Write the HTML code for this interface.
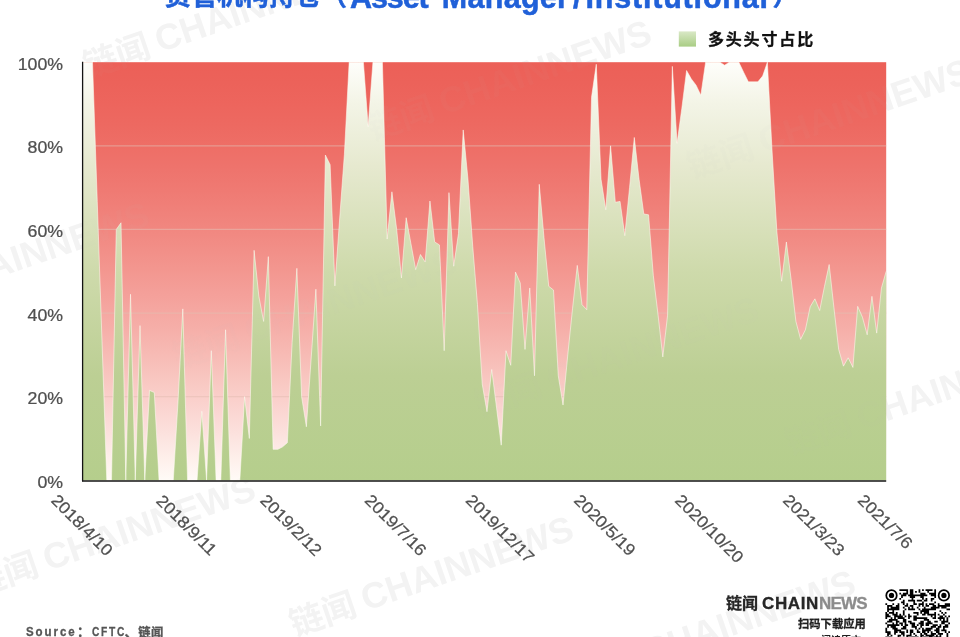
<!DOCTYPE html>
<html lang="zh-CN">
<head>
<meta charset="utf-8">
<title>资管机构持仓</title>
<style>
html,body{margin:0;padding:0;background:#fff;}
body{width:960px;height:637px;overflow:hidden;position:relative;font-family:"Liberation Sans","Noto Sans CJK SC",sans-serif;}
svg{position:absolute;left:0;top:0;display:block;}
.t{position:absolute;white-space:nowrap;line-height:1;}
.title{left:0;top:-21.5px;height:34px;color:#2060d8;font-weight:bold;font-size:26px;line-height:34px;-webkit-text-stroke:0.5px #2060d8;}
.title span{position:absolute;top:0;}
.title .en{font-size:30.5px;top:1.6px;}
.legend{left:707.9px;top:32.3px;font-size:16px;letter-spacing:1.85px;font-weight:bold;color:#111;-webkit-text-stroke:0.3px #111;}
.src{top:624.8px;font-size:13px;font-weight:bold;color:#555;-webkit-text-stroke:0.3px #555;}
.src i{font-style:normal;position:absolute;top:0;transform-origin:0 0;}
.logo{left:726px;top:593.5px;font-size:16px;font-weight:bold;color:#262626;height:20px;line-height:20px;-webkit-text-stroke:0.3px;}
.logo .en{font-size:17px;margin-left:-0.4px;letter-spacing:0.6px;}
.logo .nw{font-size:17px;color:#8c8c8c;letter-spacing:-0.75px;}
.scan{left:798px;top:618.6px;font-size:11.3px;font-weight:bold;color:#1f1f1f;-webkit-text-stroke:0.3px #1f1f1f;}
.more{left:821px;top:635.6px;font-size:10px;font-weight:bold;color:#1f1f1f;}
</style>
</head>
<body>
<svg width="960" height="637" viewBox="0 0 960 637">
<defs>
<linearGradient id="gr" gradientUnits="userSpaceOnUse" x1="0" y1="62.2" x2="0" y2="480.3">
<stop offset="0.00" stop-color="#ec6058"/><stop offset="0.05" stop-color="#ec625a"/><stop offset="0.10" stop-color="#ed655d"/><stop offset="0.15" stop-color="#ed6961"/><stop offset="0.20" stop-color="#ee6e66"/><stop offset="0.25" stop-color="#ee736c"/><stop offset="0.30" stop-color="#ef7972"/><stop offset="0.35" stop-color="#f08079"/><stop offset="0.40" stop-color="#f18780"/><stop offset="0.45" stop-color="#f28f88"/><stop offset="0.50" stop-color="#f39790"/><stop offset="0.55" stop-color="#f49f99"/><stop offset="0.60" stop-color="#f5a8a2"/><stop offset="0.65" stop-color="#f6b1ab"/><stop offset="0.70" stop-color="#f7bbb5"/><stop offset="0.75" stop-color="#f8c5bf"/><stop offset="0.80" stop-color="#facfca"/><stop offset="0.85" stop-color="#fbd9d5"/><stop offset="0.90" stop-color="#fce4e0"/><stop offset="0.95" stop-color="#fef0eb"/><stop offset="1.00" stop-color="#fffbf7"/>
</linearGradient>
<linearGradient id="gg" gradientUnits="userSpaceOnUse" x1="0" y1="62.2" x2="0" y2="480.3">
<stop offset="0" stop-color="#fefefb"/>
<stop offset="0.1" stop-color="#f3f4e6"/>
<stop offset="0.25" stop-color="#e6e9cf"/>
<stop offset="0.5" stop-color="#cedaab"/>
<stop offset="0.75" stop-color="#bccf94"/>
<stop offset="1" stop-color="#b5ce8c"/>
</linearGradient>
<clipPath id="cp"><rect x="83.0" y="62.2" width="803.2" height="418.1"/></clipPath>
<linearGradient id="lg" x1="0" y1="0" x2="0" y2="1">
<stop offset="0" stop-color="#d9e8c6"/>
<stop offset="1" stop-color="#a9cd84"/>
</linearGradient>
</defs>
<g fill="#f3f3f3" font-weight="bold"><g transform="translate(160,52.5) rotate(-19)"><text x="-8" y="1" text-anchor="end" font-size="34" font-family="Liberation Sans, Noto Sans CJK SC, sans-serif">链闻</text><text x="0" y="0" font-size="36" font-family="Liberation Sans, sans-serif">CHAINNEWS</text></g><g transform="translate(444,115) rotate(-19)"><text x="-8" y="1" text-anchor="end" font-size="34" font-family="Liberation Sans, Noto Sans CJK SC, sans-serif">链闻</text><text x="0" y="0" font-size="36" font-family="Liberation Sans, sans-serif">CHAINNEWS</text></g><g transform="translate(763.6,153.6) rotate(-19)"><text x="-8" y="1" text-anchor="end" font-size="34" font-family="Liberation Sans, Noto Sans CJK SC, sans-serif">链闻</text><text x="0" y="0" font-size="36" font-family="Liberation Sans, sans-serif">CHAINNEWS</text></g><g transform="translate(-58,297) rotate(-19)"><text x="-8" y="1" text-anchor="end" font-size="34" font-family="Liberation Sans, Noto Sans CJK SC, sans-serif">链闻</text><text x="0" y="0" font-size="36" font-family="Liberation Sans, sans-serif">CHAINNEWS</text></g><g transform="translate(249.6,343.6) rotate(-19)"><text x="-8" y="1" text-anchor="end" font-size="34" font-family="Liberation Sans, Noto Sans CJK SC, sans-serif">链闻</text><text x="0" y="0" font-size="36" font-family="Liberation Sans, sans-serif">CHAINNEWS</text></g><g transform="translate(551.6,391.6) rotate(-19)"><text x="-8" y="1" text-anchor="end" font-size="34" font-family="Liberation Sans, Noto Sans CJK SC, sans-serif">链闻</text><text x="0" y="0" font-size="36" font-family="Liberation Sans, sans-serif">CHAINNEWS</text></g><g transform="translate(861.5,430) rotate(-19)"><text x="-8" y="1" text-anchor="end" font-size="34" font-family="Liberation Sans, Noto Sans CJK SC, sans-serif">链闻</text><text x="0" y="0" font-size="36" font-family="Liberation Sans, sans-serif">CHAINNEWS</text></g><g transform="translate(48,571) rotate(-19)"><text x="-8" y="1" text-anchor="end" font-size="34" font-family="Liberation Sans, Noto Sans CJK SC, sans-serif">链闻</text><text x="0" y="0" font-size="36" font-family="Liberation Sans, sans-serif">CHAINNEWS</text></g><g transform="translate(366,611) rotate(-19)"><text x="-8" y="1" text-anchor="end" font-size="34" font-family="Liberation Sans, Noto Sans CJK SC, sans-serif">链闻</text><text x="0" y="0" font-size="36" font-family="Liberation Sans, sans-serif">CHAINNEWS</text></g><g transform="translate(648,665) rotate(-19)"><text x="-8" y="1" text-anchor="end" font-size="34" font-family="Liberation Sans, Noto Sans CJK SC, sans-serif">链闻</text><text x="0" y="0" font-size="36" font-family="Liberation Sans, sans-serif">CHAINNEWS</text></g></g>
<rect x="83.0" y="62.2" width="803.2" height="418.1" fill="url(#gr)"/>
<g stroke="#e3bdb2" stroke-opacity="0.55" stroke-width="1.3"><line x1="83.0" x2="886.2" y1="396.68" y2="396.68"/><line x1="83.0" x2="886.2" y1="313.06" y2="313.06"/><line x1="83.0" x2="886.2" y1="229.44" y2="229.44"/><line x1="83.0" x2="886.2" y1="145.82" y2="145.82"/></g>
<polygon points="83.00,480.30 83.00,62.20 87.75,62.20 92.51,62.20 97.26,201.43 102.01,341.07 106.76,480.30 111.52,480.30 116.27,229.44 121.02,222.75 125.77,480.30 130.53,294.25 135.28,480.30 140.03,325.60 144.78,480.30 149.54,390.41 154.29,392.50 159.04,480.30 163.80,480.30 168.55,480.30 173.30,480.30 178.05,400.86 182.81,308.88 187.56,480.30 192.31,480.30 197.06,480.30 201.82,411.31 206.57,480.30 211.32,350.69 216.07,480.30 220.83,480.30 225.58,329.78 230.33,480.30 235.09,480.30 239.84,480.30 244.59,396.68 249.34,438.49 254.10,250.34 258.85,296.34 263.60,321.42 268.35,256.62 273.11,449.36 277.86,449.36 282.61,446.85 287.36,442.67 292.12,342.33 296.87,268.32 301.62,396.68 306.38,426.78 311.13,359.05 315.88,289.23 320.63,425.95 325.39,155.02 330.14,164.63 334.89,285.88 339.64,218.99 344.40,154.18 349.15,62.20 353.90,62.20 358.65,62.20 363.41,62.20 368.16,126.59 372.91,62.20 377.67,62.20 382.42,62.20 387.17,239.06 391.92,191.81 396.68,229.44 401.43,277.94 406.18,217.73 410.93,243.66 415.69,269.58 420.44,254.53 425.19,262.05 429.94,201.01 434.70,241.98 439.45,244.91 444.20,350.69 448.96,192.65 453.71,266.23 458.46,233.62 463.21,129.93 467.97,179.27 472.72,246.16 477.47,304.70 482.22,384.14 486.98,411.73 491.73,369.50 496.48,407.13 501.23,445.18 505.99,350.69 510.74,365.32 515.49,272.09 520.24,282.96 525.00,349.43 529.75,287.97 534.50,375.77 539.26,184.29 544.01,237.80 548.76,286.30 553.51,290.06 558.27,375.77 563.02,405.04 567.77,354.87 572.52,308.88 577.28,265.40 582.03,304.70 586.78,309.72 591.53,97.32 596.29,64.29 601.04,179.27 605.79,209.79 610.55,145.82 615.30,202.26 620.05,201.43 624.80,235.71 629.56,187.63 634.31,137.46 639.06,179.27 643.81,213.97 648.57,214.81 653.32,275.43 658.07,315.15 662.82,356.96 667.58,315.15 672.33,66.38 677.08,143.31 681.84,108.19 686.59,70.56 691.34,78.92 696.09,85.20 700.85,95.23 705.60,62.20 710.35,62.20 715.10,62.20 719.86,62.20 724.61,65.13 729.36,62.20 734.11,62.20 738.87,62.20 743.62,72.23 748.37,81.85 753.13,81.85 757.88,81.85 762.63,76.00 767.38,62.20 772.14,152.09 776.89,231.95 781.64,281.28 786.39,241.98 791.15,279.61 795.90,321.42 800.65,339.40 805.40,329.78 810.16,306.79 814.91,298.84 819.66,310.55 824.42,286.72 829.17,264.56 833.92,307.62 838.67,349.43 843.43,366.16 848.18,357.80 852.93,367.41 857.68,306.37 862.44,317.24 867.19,334.80 871.94,296.34 876.69,333.13 881.45,287.97 886.20,271.25 886.20,480.30" fill="url(#gg)"/>
<polyline points="83.00,62.20 87.75,62.20 92.51,62.20 97.26,201.43 102.01,341.07 106.76,480.30 111.52,480.30 116.27,229.44 121.02,222.75 125.77,480.30 130.53,294.25 135.28,480.30 140.03,325.60 144.78,480.30 149.54,390.41 154.29,392.50 159.04,480.30 163.80,480.30 168.55,480.30 173.30,480.30 178.05,400.86 182.81,308.88 187.56,480.30 192.31,480.30 197.06,480.30 201.82,411.31 206.57,480.30 211.32,350.69 216.07,480.30 220.83,480.30 225.58,329.78 230.33,480.30 235.09,480.30 239.84,480.30 244.59,396.68 249.34,438.49 254.10,250.34 258.85,296.34 263.60,321.42 268.35,256.62 273.11,449.36 277.86,449.36 282.61,446.85 287.36,442.67 292.12,342.33 296.87,268.32 301.62,396.68 306.38,426.78 311.13,359.05 315.88,289.23 320.63,425.95 325.39,155.02 330.14,164.63 334.89,285.88 339.64,218.99 344.40,154.18 349.15,62.20 353.90,62.20 358.65,62.20 363.41,62.20 368.16,126.59 372.91,62.20 377.67,62.20 382.42,62.20 387.17,239.06 391.92,191.81 396.68,229.44 401.43,277.94 406.18,217.73 410.93,243.66 415.69,269.58 420.44,254.53 425.19,262.05 429.94,201.01 434.70,241.98 439.45,244.91 444.20,350.69 448.96,192.65 453.71,266.23 458.46,233.62 463.21,129.93 467.97,179.27 472.72,246.16 477.47,304.70 482.22,384.14 486.98,411.73 491.73,369.50 496.48,407.13 501.23,445.18 505.99,350.69 510.74,365.32 515.49,272.09 520.24,282.96 525.00,349.43 529.75,287.97 534.50,375.77 539.26,184.29 544.01,237.80 548.76,286.30 553.51,290.06 558.27,375.77 563.02,405.04 567.77,354.87 572.52,308.88 577.28,265.40 582.03,304.70 586.78,309.72 591.53,97.32 596.29,64.29 601.04,179.27 605.79,209.79 610.55,145.82 615.30,202.26 620.05,201.43 624.80,235.71 629.56,187.63 634.31,137.46 639.06,179.27 643.81,213.97 648.57,214.81 653.32,275.43 658.07,315.15 662.82,356.96 667.58,315.15 672.33,66.38 677.08,143.31 681.84,108.19 686.59,70.56 691.34,78.92 696.09,85.20 700.85,95.23 705.60,62.20 710.35,62.20 715.10,62.20 719.86,62.20 724.61,65.13 729.36,62.20 734.11,62.20 738.87,62.20 743.62,72.23 748.37,81.85 753.13,81.85 757.88,81.85 762.63,76.00 767.38,62.20 772.14,152.09 776.89,231.95 781.64,281.28 786.39,241.98 791.15,279.61 795.90,321.42 800.65,339.40 805.40,329.78 810.16,306.79 814.91,298.84 819.66,310.55 824.42,286.72 829.17,264.56 833.92,307.62 838.67,349.43 843.43,366.16 848.18,357.80 852.93,367.41 857.68,306.37 862.44,317.24 867.19,334.80 871.94,296.34 876.69,333.13 881.45,287.97 886.20,271.25" fill="none" stroke="#fffdf4" stroke-opacity="0.6" stroke-width="0.9" stroke-linejoin="round"/>
<line x1="82.6" x2="82.6" y1="61.7" y2="481.3" stroke="#141414" stroke-width="1.3"/>
<line x1="82.0" x2="886.2" y1="481.05" y2="481.05" stroke="#141414" stroke-width="1.5"/>
<rect x="678.8" y="31.4" width="17.2" height="15.2" fill="url(#lg)"/>
<g font-family="Liberation Sans, sans-serif" font-size="16.5" fill="#505050" stroke="#505050" stroke-width="0.25">
<text transform="translate(63,487.7) scale(1.075,1)" text-anchor="end">0%</text><text transform="translate(63,404.1) scale(1.075,1)" text-anchor="end">20%</text><text transform="translate(63,320.5) scale(1.075,1)" text-anchor="end">40%</text><text transform="translate(63,236.8) scale(1.075,1)" text-anchor="end">60%</text><text transform="translate(63,153.2) scale(1.075,1)" text-anchor="end">80%</text><text transform="translate(63,69.6) scale(1.075,1)" text-anchor="end">100%</text>
<text transform="translate(82.2,524.9) rotate(45) scale(1.075,1)" text-anchor="middle" y="5.9">2018/4/10</text><text transform="translate(186.8,524.9) rotate(45) scale(1.075,1)" text-anchor="middle" y="5.9">2018/9/11</text><text transform="translate(291.3,524.9) rotate(45) scale(1.075,1)" text-anchor="middle" y="5.9">2019/2/12</text><text transform="translate(395.9,524.9) rotate(45) scale(1.075,1)" text-anchor="middle" y="5.9">2019/7/16</text><text transform="translate(500.4,528.4) rotate(45) scale(1.075,1)" text-anchor="middle" y="5.9">2019/12/17</text><text transform="translate(605.0,524.9) rotate(45) scale(1.075,1)" text-anchor="middle" y="5.9">2020/5/19</text><text transform="translate(709.6,528.4) rotate(45) scale(1.075,1)" text-anchor="middle" y="5.9">2020/10/20</text><text transform="translate(814.1,524.9) rotate(45) scale(1.075,1)" text-anchor="middle" y="5.9">2021/3/23</text><text transform="translate(885.4,521.4) rotate(45) scale(1.075,1)" text-anchor="middle" y="5.9">2021/7/6</text>
</g>
<path d="M899.37 589.30h8.73v1.75h-8.73zM909.84 589.30h3.49v1.75h-3.49zM918.57 589.30h1.75v1.75h-1.75zM922.06 589.30h1.75v1.75h-1.75zM925.56 589.30h6.98v1.75h-6.98zM934.29 589.30h1.75v1.75h-1.75zM906.35 591.05h1.75v1.75h-1.75zM909.84 591.05h3.49v1.75h-3.49zM915.08 591.05h1.75v1.75h-1.75zM918.57 591.05h1.75v1.75h-1.75zM927.30 591.05h1.75v1.75h-1.75zM934.29 591.05h1.75v1.75h-1.75zM899.37 592.79h1.75v1.75h-1.75zM902.86 592.79h5.24v1.75h-5.24zM909.84 592.79h3.49v1.75h-3.49zM920.32 592.79h5.24v1.75h-5.24zM929.05 592.79h6.98v1.75h-6.98zM901.11 594.54h5.24v1.75h-5.24zM908.10 594.54h19.21v1.75h-19.21zM930.79 594.54h5.24v1.75h-5.24zM901.11 596.28h1.75v1.75h-1.75zM909.84 596.28h5.24v1.75h-5.24zM920.32 596.28h3.49v1.75h-3.49zM934.29 596.28h1.75v1.75h-1.75zM899.37 598.03h1.75v1.75h-1.75zM911.59 598.03h1.75v1.75h-1.75zM922.06 598.03h1.75v1.75h-1.75zM925.56 598.03h1.75v1.75h-1.75zM930.79 598.03h3.49v1.75h-3.49zM902.86 599.78h1.75v1.75h-1.75zM908.10 599.78h6.98v1.75h-6.98zM916.83 599.78h5.24v1.75h-5.24zM923.81 599.78h3.49v1.75h-3.49zM930.79 599.78h1.75v1.75h-1.75zM901.11 601.52h3.49v1.75h-3.49zM913.34 601.52h1.75v1.75h-1.75zM922.06 601.52h1.75v1.75h-1.75zM934.29 601.52h1.75v1.75h-1.75zM885.40 603.27h1.75v1.75h-1.75zM892.38 603.27h1.75v1.75h-1.75zM897.62 603.27h1.75v1.75h-1.75zM902.86 603.27h1.75v1.75h-1.75zM906.35 603.27h1.75v1.75h-1.75zM913.34 603.27h3.49v1.75h-3.49zM918.57 603.27h5.24v1.75h-5.24zM925.56 603.27h1.75v1.75h-1.75zM929.05 603.27h5.24v1.75h-5.24zM937.78 603.27h1.75v1.75h-1.75zM944.76 603.27h5.24v1.75h-5.24zM887.15 605.01h5.24v1.75h-5.24zM895.88 605.01h3.49v1.75h-3.49zM904.61 605.01h3.49v1.75h-3.49zM909.84 605.01h3.49v1.75h-3.49zM918.57 605.01h1.75v1.75h-1.75zM922.06 605.01h1.75v1.75h-1.75zM925.56 605.01h3.49v1.75h-3.49zM932.54 605.01h3.49v1.75h-3.49zM937.78 605.01h12.22v1.75h-12.22zM887.15 606.76h1.75v1.75h-1.75zM890.64 606.76h8.73v1.75h-8.73zM902.86 606.76h1.75v1.75h-1.75zM908.10 606.76h1.75v1.75h-1.75zM911.59 606.76h1.75v1.75h-1.75zM916.83 606.76h1.75v1.75h-1.75zM923.81 606.76h1.75v1.75h-1.75zM930.79 606.76h8.73v1.75h-8.73zM941.27 606.76h5.24v1.75h-5.24zM887.15 608.51h12.22v1.75h-12.22zM904.61 608.51h1.75v1.75h-1.75zM908.10 608.51h6.98v1.75h-6.98zM918.57 608.51h1.75v1.75h-1.75zM922.06 608.51h13.97v1.75h-13.97zM946.51 608.51h3.49v1.75h-3.49zM887.15 610.25h1.75v1.75h-1.75zM892.38 610.25h1.75v1.75h-1.75zM902.86 610.25h1.75v1.75h-1.75zM920.32 610.25h8.73v1.75h-8.73zM939.52 610.25h1.75v1.75h-1.75zM885.40 612.00h1.75v1.75h-1.75zM888.89 612.00h5.24v1.75h-5.24zM895.88 612.00h1.75v1.75h-1.75zM902.86 612.00h1.75v1.75h-1.75zM913.34 612.00h5.24v1.75h-5.24zM920.32 612.00h1.75v1.75h-1.75zM923.81 612.00h5.24v1.75h-5.24zM934.29 612.00h1.75v1.75h-1.75zM941.27 612.00h1.75v1.75h-1.75zM944.76 612.00h1.75v1.75h-1.75zM885.40 613.74h3.49v1.75h-3.49zM892.38 613.74h5.24v1.75h-5.24zM899.37 613.74h1.75v1.75h-1.75zM902.86 613.74h1.75v1.75h-1.75zM908.10 613.74h1.75v1.75h-1.75zM916.83 613.74h1.75v1.75h-1.75zM922.06 613.74h3.49v1.75h-3.49zM927.30 613.74h8.73v1.75h-8.73zM937.78 613.74h1.75v1.75h-1.75zM943.02 613.74h1.75v1.75h-1.75zM885.40 615.49h5.24v1.75h-5.24zM894.13 615.49h8.73v1.75h-8.73zM904.61 615.49h1.75v1.75h-1.75zM908.10 615.49h3.49v1.75h-3.49zM913.34 615.49h3.49v1.75h-3.49zM930.79 615.49h1.75v1.75h-1.75zM934.29 615.49h1.75v1.75h-1.75zM939.52 615.49h3.49v1.75h-3.49zM944.76 615.49h1.75v1.75h-1.75zM948.25 615.49h1.75v1.75h-1.75zM885.40 617.24h1.75v1.75h-1.75zM890.64 617.24h1.75v1.75h-1.75zM894.13 617.24h1.75v1.75h-1.75zM897.62 617.24h6.98v1.75h-6.98zM908.10 617.24h1.75v1.75h-1.75zM913.34 617.24h13.97v1.75h-13.97zM932.54 617.24h3.49v1.75h-3.49zM937.78 617.24h6.98v1.75h-6.98zM946.51 617.24h1.75v1.75h-1.75zM888.89 618.98h8.73v1.75h-8.73zM902.86 618.98h3.49v1.75h-3.49zM913.34 618.98h3.49v1.75h-3.49zM923.81 618.98h5.24v1.75h-5.24zM939.52 618.98h1.75v1.75h-1.75zM943.02 618.98h1.75v1.75h-1.75zM946.51 618.98h1.75v1.75h-1.75zM887.15 620.73h5.24v1.75h-5.24zM895.88 620.73h3.49v1.75h-3.49zM902.86 620.73h3.49v1.75h-3.49zM908.10 620.73h3.49v1.75h-3.49zM920.32 620.73h3.49v1.75h-3.49zM927.30 620.73h3.49v1.75h-3.49zM934.29 620.73h3.49v1.75h-3.49zM941.27 620.73h6.98v1.75h-6.98zM885.40 622.47h1.75v1.75h-1.75zM892.38 622.47h1.75v1.75h-1.75zM895.88 622.47h1.75v1.75h-1.75zM899.37 622.47h3.49v1.75h-3.49zM904.61 622.47h1.75v1.75h-1.75zM909.84 622.47h5.24v1.75h-5.24zM918.57 622.47h5.24v1.75h-5.24zM925.56 622.47h6.98v1.75h-6.98zM941.27 622.47h3.49v1.75h-3.49zM948.25 622.47h1.75v1.75h-1.75zM887.15 624.22h12.22v1.75h-12.22zM901.11 624.22h1.75v1.75h-1.75zM904.61 624.22h3.49v1.75h-3.49zM911.59 624.22h3.49v1.75h-3.49zM916.83 624.22h1.75v1.75h-1.75zM920.32 624.22h3.49v1.75h-3.49zM925.56 624.22h3.49v1.75h-3.49zM932.54 624.22h5.24v1.75h-5.24zM939.52 624.22h1.75v1.75h-1.75zM944.76 624.22h3.49v1.75h-3.49zM887.15 625.96h1.75v1.75h-1.75zM890.64 625.96h5.24v1.75h-5.24zM902.86 625.96h3.49v1.75h-3.49zM911.59 625.96h5.24v1.75h-5.24zM920.32 625.96h1.75v1.75h-1.75zM930.79 625.96h5.24v1.75h-5.24zM937.78 625.96h3.49v1.75h-3.49zM943.02 625.96h5.24v1.75h-5.24zM885.40 627.71h1.75v1.75h-1.75zM892.38 627.71h5.24v1.75h-5.24zM901.11 627.71h5.24v1.75h-5.24zM915.08 627.71h1.75v1.75h-1.75zM918.57 627.71h1.75v1.75h-1.75zM922.06 627.71h1.75v1.75h-1.75zM925.56 627.71h6.98v1.75h-6.98zM936.03 627.71h3.49v1.75h-3.49zM943.02 627.71h1.75v1.75h-1.75zM885.40 629.46h1.75v1.75h-1.75zM894.13 629.46h6.98v1.75h-6.98zM906.35 629.46h1.75v1.75h-1.75zM909.84 629.46h3.49v1.75h-3.49zM916.83 629.46h1.75v1.75h-1.75zM922.06 629.46h8.73v1.75h-8.73zM934.29 629.46h5.24v1.75h-5.24zM941.27 629.46h5.24v1.75h-5.24zM885.40 631.20h5.24v1.75h-5.24zM894.13 631.20h3.49v1.75h-3.49zM899.37 631.20h5.24v1.75h-5.24zM906.35 631.20h1.75v1.75h-1.75zM909.84 631.20h3.49v1.75h-3.49zM916.83 631.20h3.49v1.75h-3.49zM922.06 631.20h3.49v1.75h-3.49zM927.30 631.20h1.75v1.75h-1.75zM930.79 631.20h1.75v1.75h-1.75zM936.03 631.20h3.49v1.75h-3.49zM944.76 631.20h1.75v1.75h-1.75zM948.25 631.20h1.75v1.75h-1.75zM887.15 632.95h3.49v1.75h-3.49zM894.13 632.95h1.75v1.75h-1.75zM901.11 632.95h3.49v1.75h-3.49zM909.84 632.95h1.75v1.75h-1.75zM913.34 632.95h1.75v1.75h-1.75zM920.32 632.95h1.75v1.75h-1.75zM923.81 632.95h3.49v1.75h-3.49zM930.79 632.95h5.24v1.75h-5.24zM937.78 632.95h5.24v1.75h-5.24zM946.51 632.95h1.75v1.75h-1.75zM887.15 634.69h1.75v1.75h-1.75zM890.64 634.69h1.75v1.75h-1.75zM897.62 634.69h3.49v1.75h-3.49zM902.86 634.69h1.75v1.75h-1.75zM906.35 634.69h5.24v1.75h-5.24zM915.08 634.69h1.75v1.75h-1.75zM920.32 634.69h3.49v1.75h-3.49zM925.56 634.69h8.73v1.75h-8.73zM936.03 634.69h1.75v1.75h-1.75zM939.52 634.69h1.75v1.75h-1.75zM946.51 634.69h1.75v1.75h-1.75zM885.40 636.44h1.75v1.75h-1.75zM888.89 636.44h1.75v1.75h-1.75zM897.62 636.44h1.75v1.75h-1.75zM906.35 636.44h1.75v1.75h-1.75zM911.59 636.44h3.49v1.75h-3.49zM916.83 636.44h1.75v1.75h-1.75zM920.32 636.44h1.75v1.75h-1.75zM923.81 636.44h1.75v1.75h-1.75zM929.05 636.44h3.49v1.75h-3.49zM934.29 636.44h6.98v1.75h-6.98zM946.51 636.44h1.75v1.75h-1.75zM885.40 638.19h1.75v1.75h-1.75zM890.64 638.19h1.75v1.75h-1.75zM899.37 638.19h1.75v1.75h-1.75zM904.61 638.19h1.75v1.75h-1.75zM908.10 638.19h1.75v1.75h-1.75zM913.34 638.19h1.75v1.75h-1.75zM916.83 638.19h3.49v1.75h-3.49zM922.06 638.19h1.75v1.75h-1.75zM925.56 638.19h1.75v1.75h-1.75zM934.29 638.19h6.98v1.75h-6.98zM943.02 638.19h1.75v1.75h-1.75zM948.25 638.19h1.75v1.75h-1.75zM902.86 639.93h1.75v1.75h-1.75zM908.10 639.93h1.75v1.75h-1.75zM911.59 639.93h5.24v1.75h-5.24zM922.06 639.93h5.24v1.75h-5.24zM930.79 639.93h1.75v1.75h-1.75zM934.29 639.93h1.75v1.75h-1.75zM939.52 639.93h1.75v1.75h-1.75zM943.02 639.93h1.75v1.75h-1.75zM946.51 639.93h3.49v1.75h-3.49z" fill="#000"/><circle cx="891.51" cy="595.41" r="5.24" fill="#fff" stroke="#000" stroke-width="1.75"/><circle cx="891.51" cy="595.41" r="2.62" fill="#000"/><circle cx="943.89" cy="595.41" r="5.24" fill="#fff" stroke="#000" stroke-width="1.75"/><circle cx="943.89" cy="595.41" r="2.62" fill="#000"/>
<g fill="#c4c4c4" fill-opacity="0.035" font-weight="bold" clip-path="url(#cp)"><g transform="translate(160,52.5) rotate(-19)"><text x="-8" y="1" text-anchor="end" font-size="34" font-family="Liberation Sans, Noto Sans CJK SC, sans-serif">链闻</text><text x="0" y="0" font-size="36" font-family="Liberation Sans, sans-serif">CHAINNEWS</text></g><g transform="translate(444,115) rotate(-19)"><text x="-8" y="1" text-anchor="end" font-size="34" font-family="Liberation Sans, Noto Sans CJK SC, sans-serif">链闻</text><text x="0" y="0" font-size="36" font-family="Liberation Sans, sans-serif">CHAINNEWS</text></g><g transform="translate(763.6,153.6) rotate(-19)"><text x="-8" y="1" text-anchor="end" font-size="34" font-family="Liberation Sans, Noto Sans CJK SC, sans-serif">链闻</text><text x="0" y="0" font-size="36" font-family="Liberation Sans, sans-serif">CHAINNEWS</text></g><g transform="translate(-58,297) rotate(-19)"><text x="-8" y="1" text-anchor="end" font-size="34" font-family="Liberation Sans, Noto Sans CJK SC, sans-serif">链闻</text><text x="0" y="0" font-size="36" font-family="Liberation Sans, sans-serif">CHAINNEWS</text></g><g transform="translate(249.6,343.6) rotate(-19)"><text x="-8" y="1" text-anchor="end" font-size="34" font-family="Liberation Sans, Noto Sans CJK SC, sans-serif">链闻</text><text x="0" y="0" font-size="36" font-family="Liberation Sans, sans-serif">CHAINNEWS</text></g><g transform="translate(551.6,391.6) rotate(-19)"><text x="-8" y="1" text-anchor="end" font-size="34" font-family="Liberation Sans, Noto Sans CJK SC, sans-serif">链闻</text><text x="0" y="0" font-size="36" font-family="Liberation Sans, sans-serif">CHAINNEWS</text></g><g transform="translate(861.5,430) rotate(-19)"><text x="-8" y="1" text-anchor="end" font-size="34" font-family="Liberation Sans, Noto Sans CJK SC, sans-serif">链闻</text><text x="0" y="0" font-size="36" font-family="Liberation Sans, sans-serif">CHAINNEWS</text></g><g transform="translate(48,571) rotate(-19)"><text x="-8" y="1" text-anchor="end" font-size="34" font-family="Liberation Sans, Noto Sans CJK SC, sans-serif">链闻</text><text x="0" y="0" font-size="36" font-family="Liberation Sans, sans-serif">CHAINNEWS</text></g><g transform="translate(366,611) rotate(-19)"><text x="-8" y="1" text-anchor="end" font-size="34" font-family="Liberation Sans, Noto Sans CJK SC, sans-serif">链闻</text><text x="0" y="0" font-size="36" font-family="Liberation Sans, sans-serif">CHAINNEWS</text></g><g transform="translate(648,665) rotate(-19)"><text x="-8" y="1" text-anchor="end" font-size="34" font-family="Liberation Sans, Noto Sans CJK SC, sans-serif">链闻</text><text x="0" y="0" font-size="36" font-family="Liberation Sans, sans-serif">CHAINNEWS</text></g></g>
</svg>
<div class="t title"><span style="left:165px">资管机构持仓（</span><span class="en" style="left:350px;letter-spacing:-1.1px">Asset </span><span class="en" style="left:441.8px;letter-spacing:0.28px">Manager </span><span class="en" style="left:573px">/ </span><span class="en" style="left:585.4px;letter-spacing:0.82px">Institutional</span><span style="left:772.5px">）</span></div>
<div class="t legend">多头头寸占比</div>
<div class="t src" style="left:0"><i style="left:26px;letter-spacing:2.2px;transform:scaleX(0.885)">Source</i><i style="left:77px">：</i><i style="left:91.6px;letter-spacing:2.2px;transform:scaleX(0.785)">CFTC</i><i style="left:124.5px">、</i><i style="left:138.3px;top:1.8px;font-size:12.3px;letter-spacing:0.5px">链闻</i></div>
<div class="t logo">链闻 <span class="en">CHAIN</span><span class="nw">NEWS</span></div>
<div class="t scan">扫码下载应用</div>
<div class="t more">阅读原文</div>
</body>
</html>
